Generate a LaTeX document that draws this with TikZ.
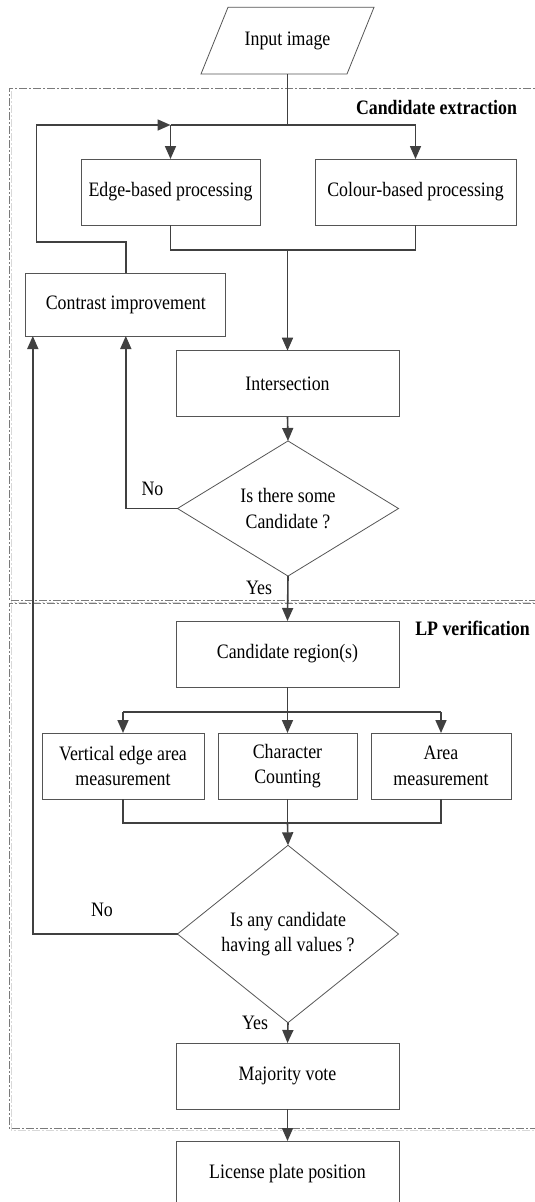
\documentclass[tikz,border=0pt]{standalone}
\usepackage{fontspec}
\setmainfont[FakeStretch=0.87]{Liberation Serif}
\usetikzlibrary{shapes.geometric,arrows.meta}
\definecolor{conn}{HTML}{404040}
\definecolor{boxc}{HTML}{555555}
\definecolor{dashc}{HTML}{7A7A7A}
\definecolor{shadc}{HTML}{D8D8D8}
\tikzset{
  txt/.style={font=\fontsize{20.5}{25.5}\selectfont, align=center},
  procbox/.style={txt, draw=boxc, line width=0.8pt, rectangle, inner sep=0pt, outer sep=0pt, minimum height=66pt},
  decbox/.style={txt, draw=boxc, line width=0.8pt, diamond, inner sep=0pt, outer sep=0pt, minimum width=221pt},
  conline/.style={draw=conn, line width=1.6pt},
  arr/.style={conline, -{Triangle[length=13pt,width=11pt]}},
  grpline/.style={draw=dashc, line width=0.9pt, dash pattern=on 8pt off 2pt on 2pt off 2pt},
  shadline/.style={draw=shadc, line width=0.9pt, dash pattern=on 8pt off 2pt on 2pt off 2pt},
  lbl/.style={txt, inner sep=0pt},
  grplbl/.style={font=\fontsize{20.5}{25}\selectfont\bfseries, inner sep=0pt}
}
\begin{document}
\begin{tikzpicture}[x=1pt,y=-1pt]
\useasboundingbox (0,0) rectangle (535,1202);
\clip (0,0) rectangle (535,1202);
\fill[white] (0,0) rectangle (535,1202);

% group frames
\draw[shadline] (11,91) -- (11,602) -- (545,602);
\draw[shadline] (11,605) -- (11,1130) -- (545,1130);
\draw[grpline] (545,88) -- (9,88) -- (9,600) -- (545,600);
\draw[grpline] (545,603) -- (9,603) -- (9,1128) -- (545,1128);
\node[grplbl] (ce) at (436.5,107) {Candidate extraction};
\node[grplbl] (lp) at (472.5,628) {LP verification};

% nodes
\node[lbl, minimum width=146pt, minimum height=67pt] (inp) at (287.5,40.7) {Input image};
\draw[draw=boxc, line width=0.8pt] (228,7.3) -- (374,7.3) -- (347,74) -- (201,74) -- cycle;

\node[procbox, minimum width=179pt] (edge) at (170.5,192) {Edge-based processing};
\node[procbox, minimum width=201pt] (colour) at (415.5,192) {Colour-based processing};
\node[procbox, minimum width=200pt, minimum height=63pt] (contrast) at (125.8,304.5) {Contrast improvement};
\node[procbox, minimum width=223pt] (inter) at (287.5,383.7) {Intersection};
\node[decbox, minimum height=131pt] (d1) at (288,508.5) {Is there some\\Candidate ?};
\node[procbox, minimum width=223pt] (candreg) at (287.5,654) {Candidate region(s)};
\node[procbox, minimum width=162pt] (vert) at (123,766) {Vertical edge area\\measurement};
\node[procbox, minimum width=139pt] (charc) at (287.5,766) {Character\\Counting};
\node[procbox, minimum width=140pt] (area) at (441,766) {Area\\measurement};
\node[decbox, minimum height=164pt] (d2) at (288,934) {Is any candidate\\having all values ?};
\node[procbox, minimum width=223pt] (major) at (287.5,1076) {Majority vote};
\node[procbox, minimum width=223pt] (lic) at (287.5,1174) {License plate position};

% coordinates
\coordinate (j1) at (287.5,125);
\coordinate (m1) at (287.5,250);
\coordinate (j2) at (287.5,712);
\coordinate (m2) at (287.5,823);

% connectors: extraction
\draw[conline] (inp.south) -- (j1);
\draw[conline] (edge.north |- j1) -- (colour.north |- j1);
\draw[arr] (edge.north |- j1) -- (edge.north);
\draw[arr] (colour.north |- j1) -- (colour.north);
\draw[conline] (edge.south) -- (edge.south |- m1) -- (colour.south |- m1) -- (colour.south);
\draw[arr] (m1) -- (inter.north);
\draw[arr] (contrast.north) -- ++(0,-31) -- (36.5,242) -- (36.5,125) -- (edge.north |- j1);
\draw[arr] (inter.south) -- (d1.north);
\draw[arr] (d1.west) -- (contrast.south |- d1.west) -- (contrast.south);
\node[lbl] (no1) at (152.5,489) {No};
\draw[arr] (d1.south) -- (candreg.north);
\node[lbl] (yes1) at (259,588) {Yes};

% connectors: verification
\draw[conline] (candreg.south) -- (j2);
\draw[conline] (vert.north |- j2) -- (area.north |- j2);
\draw[arr] (vert.north |- j2) -- (vert.north);
\draw[arr] (j2) -- (charc.north);
\draw[arr] (area.north |- j2) -- (area.north);
\draw[conline] (vert.south) -- (vert.south |- m2) -- (area.south |- m2) -- (area.south);
\draw[conline] (charc.south) -- (m2);
\draw[arr] (m2) -- (d2.north);
\draw[arr] (d2.west) -- (32.8,934) -- (32.8,336);
\node[lbl] (no2) at (102,910) {No};
\draw[arr] (d2.south) -- (major.north);
\node[lbl] (yes2) at (255,1023) {Yes};
\draw[arr] (major.south) -- (lic.north);
\end{tikzpicture}
\end{document}
